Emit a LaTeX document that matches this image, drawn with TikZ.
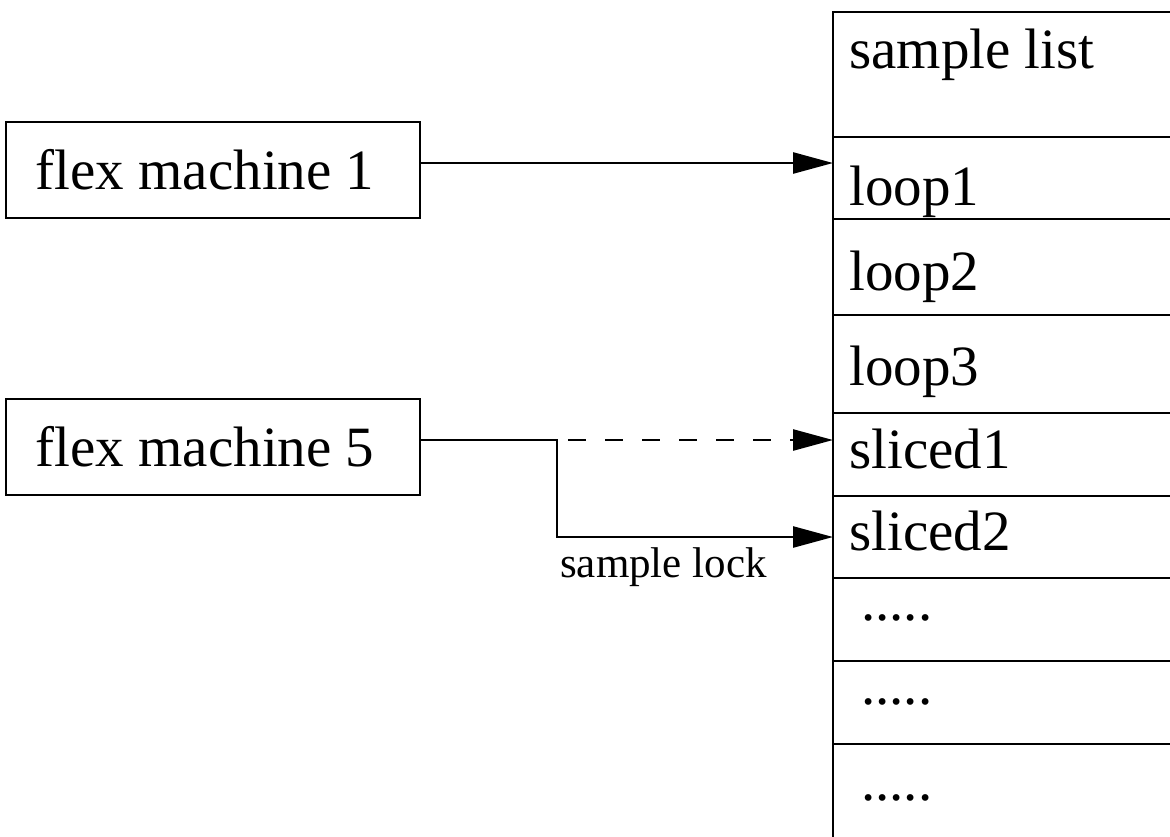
\documentclass[tikz,border=0pt]{standalone}
\usepackage{fontspec}
\setmainfont{Liberation Serif}
\usetikzlibrary{arrows.meta}
\begin{document}
\begin{tikzpicture}[x=1pt,y=-1pt,
  lw/.style={line width=2.6pt},
  machine/.style={draw,lw,minimum width=414pt,minimum height=96pt,inner sep=0pt,outer sep=0pt,font=\fontsize{57}{60}\selectfont},
  cell/.style={draw,lw,anchor=north west,minimum width=420pt,inner sep=0pt,outer sep=0pt},
  celltext/.style={anchor=base west,inner sep=0pt,font=\fontsize{57}{60}\selectfont},
  smalltext/.style={anchor=base west,inner sep=0pt,font=\fontsize{43}{46}\selectfont},
  arr/.style={lw,-{Triangle[length=40pt,width=21pt]}},
  ]
\useasboundingbox (0,0) rectangle (1170,836);
\clip (0,0) rectangle (1170,836);

% machines
\node[machine] (m1) at (213,170) {flex machine 1\kern16pt};
\node[machine] (m5) at (213,447) {flex machine 5\kern16pt};

% record cells
\node[cell,minimum height=125pt] (c0) at (833,12) {};
\node[cell,minimum height=82pt] (loop1) at (c0.south west) {};
\node[cell,minimum height=96pt] (loop2) at (loop1.south west) {};
\node[cell,minimum height=98pt] (loop3) at (loop2.south west) {};
\node[cell,minimum height=83pt] (sliced1) at (loop3.south west) {};
\node[cell,minimum height=82pt] (sliced2) at (sliced1.south west) {};
\node[cell,minimum height=83pt] (d1) at (sliced2.south west) {};
\node[cell,minimum height=83pt] (d2) at (d1.south west) {};
\node[cell,minimum height=120pt] (d3) at (d2.south west) {};

% cell texts
\node[celltext] (t0) at (849,68) {sample list};
\node[celltext] (t1) at (849,205) {loop1};
\node[celltext] (t2) at (849,290) {loop2};
\node[celltext] (t3) at (849,385) {loop3};
\node[celltext] (t4) at (849,468) {sliced1};
\node[celltext] (t5) at (849,550) {sliced2};
\node[celltext] (t6) at (861,620) {.....};
\node[celltext] (t7) at (861,704) {.....};
\node[celltext] (t8) at (861,800) {.....};

% connectors
\draw[arr] ([yshift=7pt]m1.east) coordinate (a1) -- (a1 -| loop1.west);
\draw[arr,dash pattern=on 18pt off 19pt] ([yshift=7pt]m5.east) coordinate (a5) -- (a5 -| sliced1.west);
\draw[arr] (a5) -- ++(137,0) coordinate (bend) |- (sliced2.west);
\node[smalltext] (lock) at (560,577) {sample lock};
\end{tikzpicture}
\end{document}
